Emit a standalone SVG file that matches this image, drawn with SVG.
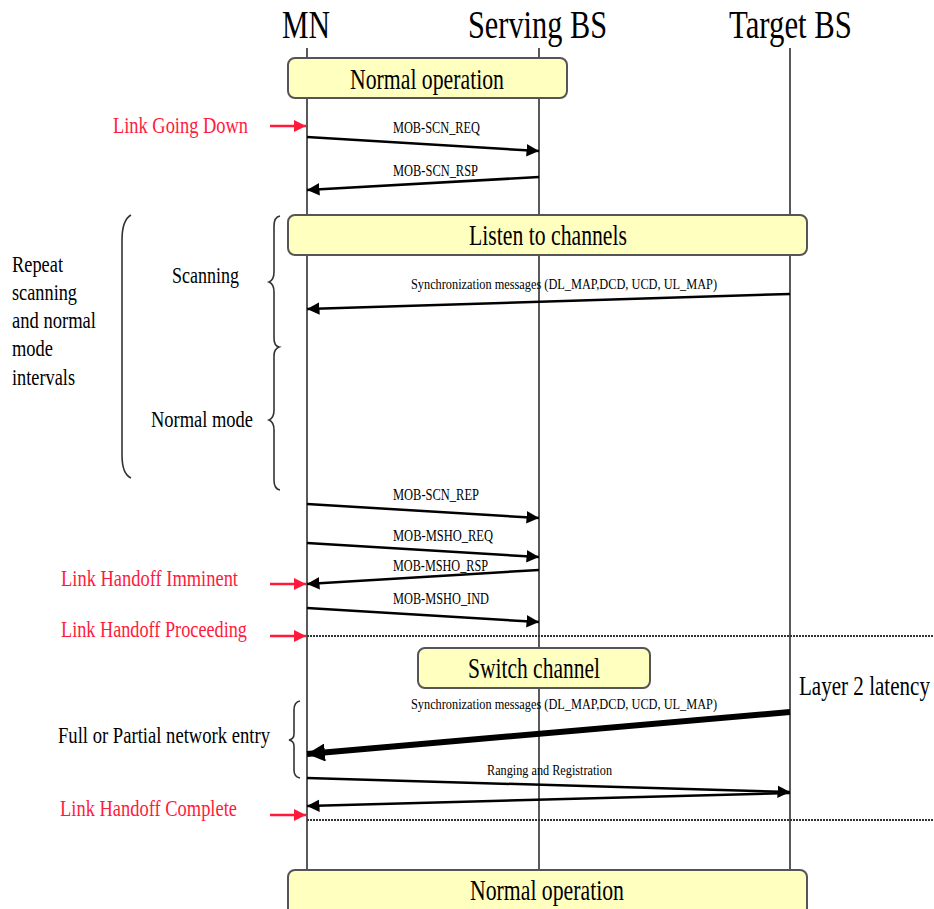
<svg xmlns="http://www.w3.org/2000/svg" width="934" height="909" viewBox="0 0 934 909">
  <style>
    text { font-family: "Liberation Serif", "Times New Roman", serif; fill: #000; }
    .head { font-size: 39px; }
    .box { fill: #ffffc0; stroke: #555; stroke-width: 2; }
    .boxt { font-size: 30px; text-anchor: middle; }
    .life { stroke: #000; stroke-width: 1.3; fill: none; }
    .msg { stroke: #000; stroke-width: 2.5; fill: none; marker-end: url(#ah); }
    .lbl { font-size: 17px; }
    .sync { font-size: 14px; }
    .red { font-size: 23px; fill: #ff1a3c; }
    .rarr { stroke: #ff1a3c; stroke-width: 2.5; fill: none; marker-end: url(#rh); }
    .note { font-size: 23px; }
    .brace { stroke: #333; stroke-width: 1.6; fill: none; }
    .dots { stroke: #333; stroke-width: 2; stroke-dasharray: 2 1; fill: none; }
  </style>
  <defs>
    <marker id="ah" viewBox="0 0 10 10" refX="10" refY="5" markerWidth="5" markerHeight="5" markerUnits="strokeWidth" orient="auto">
      <path d="M0,0 L10,5 L0,10 z" fill="#000"/>
    </marker>
    <marker id="ahs" viewBox="0 0 10 10" refX="10" refY="5" markerWidth="3" markerHeight="3" markerUnits="strokeWidth" orient="auto">
      <path d="M0,0 L10,5 L0,10 z" fill="#000"/>
    </marker>
    <marker id="rh" viewBox="0 0 10 10" refX="10" refY="5" markerWidth="5" markerHeight="5" markerUnits="strokeWidth" orient="auto">
      <path d="M0,0 L10,5 L0,10 z" fill="#ff1a3c"/>
    </marker>
  </defs>

  <!-- lifelines -->
  <g id="lifelines">
    <line class="life" x1="307" y1="48" x2="307" y2="875"/>
    <line class="life" x1="539" y1="48" x2="539" y2="875"/>
    <line class="life" x1="790" y1="48" x2="790" y2="875"/>
  </g>

  <!-- participants -->
  <g id="mn"><text class="head" x="282" y="38" textLength="48" lengthAdjust="spacingAndGlyphs">MN</text></g>
  <g id="serving-bs"><text class="head" x="468" y="38" textLength="139" lengthAdjust="spacingAndGlyphs">Serving BS</text></g>
  <g id="target-bs"><text class="head" x="729" y="38" textLength="123" lengthAdjust="spacingAndGlyphs">Target BS</text></g>

  <!-- phase boxes -->
  <g id="normal-op-top">
    <rect class="box" x="288" y="58" width="279" height="40" rx="7"/>
    <text class="boxt" x="427" y="89" textLength="154" lengthAdjust="spacingAndGlyphs">Normal operation</text>
  </g>
  <g id="listen">
    <rect class="box" x="288" y="215" width="519" height="40" rx="7"/>
    <text class="boxt" x="548" y="245" textLength="158" lengthAdjust="spacingAndGlyphs">Listen to channels</text>
  </g>
  <g id="switch">
    <rect class="box" x="418" y="648" width="232" height="40" rx="7"/>
    <text class="boxt" x="534" y="678" textLength="132" lengthAdjust="spacingAndGlyphs">Switch channel</text>
  </g>
  <g id="normal-op-bottom">
    <rect class="box" x="288" y="870" width="519" height="45" rx="7"/>
    <text class="boxt" x="547" y="900" textLength="154" lengthAdjust="spacingAndGlyphs">Normal operation</text>
  </g>

  <!-- messages -->
  <g id="connectors">
    <line class="msg" x1="307" y1="137" x2="539" y2="151"/>
    <line class="msg" x1="539" y1="177" x2="307" y2="190"/>
    <line class="msg" x1="790" y1="294" x2="307" y2="309"/>
    <line class="msg" x1="307" y1="504" x2="539" y2="518"/>
    <line class="msg" x1="307" y1="543" x2="539" y2="557"/>
    <line class="msg" x1="539" y1="570" x2="307" y2="584"/>
    <line class="msg" x1="307" y1="608" x2="539" y2="622"/>
    <line x1="790" y1="712" x2="307" y2="754" stroke="#000" stroke-width="6" marker-end="url(#ahs)"/>
    <line class="msg" x1="307" y1="778" x2="790" y2="792"/>
    <line class="msg" x1="790" y1="793" x2="307" y2="806"/>
    <line class="dots" x1="307" y1="636" x2="934" y2="636"/>
    <line class="dots" x1="307" y1="820" x2="934" y2="820"/>
    <!-- event pointers -->
    <line class="rarr" x1="270" y1="126" x2="306" y2="126"/>
    <line class="rarr" x1="270" y1="584" x2="306" y2="584"/>
    <line class="rarr" x1="270" y1="636" x2="306" y2="636"/>
    <line class="rarr" x1="270" y1="815" x2="306" y2="815"/>
  </g>

  <!-- message labels -->
  <g id="labels">
    <text class="lbl" x="393" y="133" textLength="87" lengthAdjust="spacingAndGlyphs">MOB-SCN_REQ</text>
    <text class="lbl" x="393" y="176" textLength="85" lengthAdjust="spacingAndGlyphs">MOB-SCN_RSP</text>
    <text class="sync" x="411" y="289" textLength="306" lengthAdjust="spacingAndGlyphs">Synchronization messages (DL_MAP,DCD, UCD, UL_MAP)</text>
    <text class="lbl" x="393" y="500" textLength="86" lengthAdjust="spacingAndGlyphs">MOB-SCN_REP</text>
    <text class="lbl" x="393" y="541" textLength="100" lengthAdjust="spacingAndGlyphs">MOB-MSHO_REQ</text>
    <text class="lbl" x="393" y="571" textLength="95" lengthAdjust="spacingAndGlyphs">MOB-MSHO_RSP</text>
    <text class="lbl" x="393" y="604" textLength="96" lengthAdjust="spacingAndGlyphs">MOB-MSHO_IND</text>
    <text class="sync" x="411" y="709" textLength="306" lengthAdjust="spacingAndGlyphs">Synchronization messages (DL_MAP,DCD, UCD, UL_MAP)</text>
    <text class="sync" x="487" y="775" textLength="125" lengthAdjust="spacingAndGlyphs">Ranging and Registration</text>
  </g>

  <!-- link events -->
  <g id="events">
    <text class="red" x="113" y="133" textLength="135" lengthAdjust="spacingAndGlyphs">Link Going Down</text>
    <text class="red" x="61" y="586" textLength="177" lengthAdjust="spacingAndGlyphs">Link Handoff Imminent</text>
    <text class="red" x="61" y="637" textLength="186" lengthAdjust="spacingAndGlyphs">Link Handoff Proceeding</text>
    <text class="red" x="60" y="816" textLength="177" lengthAdjust="spacingAndGlyphs">Link Handoff Complete</text>
  </g>

  <!-- interval annotations -->
  <g id="intervals">
    <text class="note" x="12" y="272" textLength="51" lengthAdjust="spacingAndGlyphs">Repeat</text>
    <text class="note" x="12" y="300" textLength="65" lengthAdjust="spacingAndGlyphs">scanning</text>
    <text class="note" x="12" y="328" textLength="84" lengthAdjust="spacingAndGlyphs">and normal</text>
    <text class="note" x="12" y="356" textLength="41" lengthAdjust="spacingAndGlyphs">mode</text>
    <text class="note" x="12" y="385" textLength="63" lengthAdjust="spacingAndGlyphs">intervals</text>
    <text class="note" x="172" y="283" textLength="67" lengthAdjust="spacingAndGlyphs">Scanning</text>
    <text class="note" x="151" y="427" textLength="102" lengthAdjust="spacingAndGlyphs">Normal mode</text>
    <text class="note" x="58" y="743" textLength="212" lengthAdjust="spacingAndGlyphs">Full or Partial network entry</text>
    <path class="brace" d="M131,215 Q122,220 122,240 L122,455 Q122,474 131,478"/>
    <path class="brace" d="M280,216 Q274,217 274,226 L274,272 Q274,280 269,282 Q274,284 274,292 L274,338 Q274,346 279,347 Q274,349 274,356 L274,410 Q274,418 269,420 Q274,422 274,430 L274,480 Q274,489 280,490"/>
    <path class="brace" d="M300,701 Q294,702 294,710 L294,734 Q294,739 289,740 Q294,741 294,746 L294,770 Q294,777 300,778"/>
  </g>

  <g id="latency">
    <text transform="translate(799,695) scale(0.78,1)" x="0" y="0" font-size="27">Layer 2 latency</text>
  </g>
</svg>
